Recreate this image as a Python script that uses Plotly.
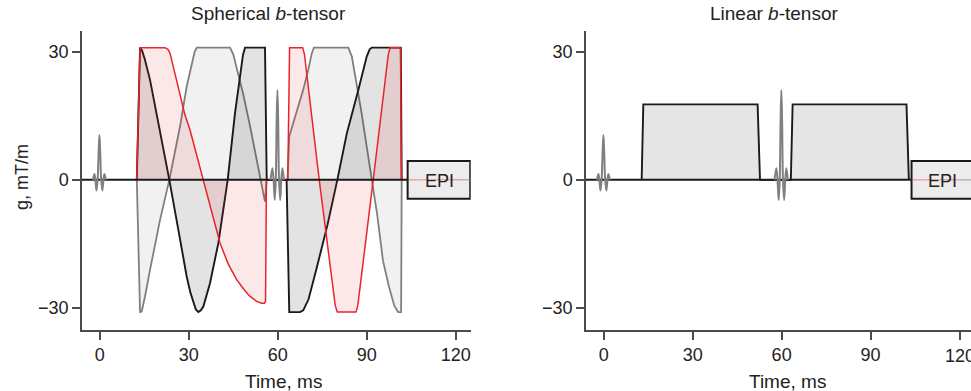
import plotly.graph_objects as go

# ---------------- data (time in ms, gradient in mT/m) ----------------
# Spherical b-tensor: three gradient channels
sph_black_t = [12.5, 13.6, 14.3, 15.2, 16.96, 20.33, 23.47, 26.51, 29.32, 30.6, 31.56, 32.4, 33.25, 34.1,
               34.93, 37.18, 39.99, 43.14, 45.61, 47.3, 48.3, 48.98, 55.72, 56.3, 63.0, 63.9, 67.5, 68.6,
               70.4, 73.2, 76.8, 80.1, 83.3, 87.2, 90.0, 91.0, 91.7, 101.5, 101.8]
sph_black_g = [0, 31, 30.3, 28.3, 23.44, 11.72, 0, -11.72, -22.66, -26.5, -28.91, -30.4, -31, -30.6,
               -29.69, -24.22, -14.84, 0, 15.63, 25.0, 29.3, 31, 31, 0, 0, -31, -31, -30.6,
               -28, -20.5, -10.5, 0, 10.9, 21.1, 28.9, 30.6, 31, 31, 0]

sph_gray_t = [12.5, 13.6, 14.15, 15.27, 16.96, 20.33, 23.47, 27.07, 29.32, 31.0, 32.0, 32.7, 43.92,
              45.0, 46.5, 48.4, 50.7, 53.0, 55.7, 56.3, 63.3, 63.9, 65.3, 66.9, 68.6, 70.3, 71.5, 72.2,
              83.8, 85.0, 86.6, 88.3, 90.0, 91.7, 93.5, 95.5, 97.5, 99.3, 100.6, 101.6, 101.8]
sph_gray_g = [0, -31, -30.86, -27.35, -21.1, -9.38, 0, 12.5, 21.88, 27.35, 30.0, 31, 31,
              29.5, 25.5, 20, 12.5, 4.5, -5.1, 0, 0, 10.2, 13.3, 17.2, 21.1, 25.8, 29.7, 31,
              31, 28.9, 22.7, 15.6, 7.8, 0, -8, -19, -25, -29.5, -31, -31, 0]

sph_red_t = [12.46, 13.59, 22.0, 23.0, 23.7, 25.3, 27.07, 28.7, 30.44, 34.93, 37.8, 40.55, 43.3,
             46.17, 48.5, 50.5, 52.91, 54.6, 55.5, 55.9, 56.2, 63.4, 64.0, 68.4, 69.0, 74.0, 79.4,
             80.1, 86.4, 87.0, 92.2, 97.3, 97.9, 101.4, 101.7]
sph_red_g = [0, 31, 31, 30.6, 29.7, 24.9, 19.5, 15.3, 11.7, 0, -7.6, -14.8, -19.7,
             -23.4, -25.6, -27.2, -28.5, -28.9, -28.9, -28.5, 0, 0, 31, 31, 29.5, 0, -29.5,
             -31, -31, -29.5, 0, 29.5, 31, 31, 0]

# Linear b-tensor: two trapezoid gradients
lin_t = [12.8, 13.35, 51.9, 52.7, 63.1, 63.7, 102.1, 102.9]
lin_g = [0, 17.7, 17.7, 0, 0, 17.7, 17.7, 0]

# RF pulses (excitation ~0 ms, refocusing ~60 ms)
rf1_t = [-2.3, -1.8, -1.45, -1.1, -0.7, -0.35, -0.1, 0.15, 0.5, 0.9, 1.25, 1.6, 2.1]
rf1_g = [0, 1.4, 0, -2.5, 0, 7.0, 10.5, 7.0, 0, -2.5, 0, 1.4, 0]
rf2_t = [57.6, 58.2, 58.6, 59.0, 59.35, 59.65, 59.9, 60.15, 60.45, 60.85, 61.2, 61.6, 62.1]
rf2_g = [0, 2.7, 0, -4.7, 0, 14, 21, 14, 0, -4.7, 0, 2.7, 0]

# zero baseline and EPI readout block
base_t = [-6.0, 103.8]
base_g = [0, 0]
epi_start = 103.8
epi_half_height = 4.4
epi_label = "EPI"

y_ticks = [-30, 0, 30]
y_ticklabels = ["\u221230", "0", "30"]
x_ticks = [0, 30, 60, 90, 120]
x_ticklabels = ["0", "30", "60", "90", "120"]

titles = ["Spherical <i>b</i>-tensor", "Linear <i>b</i>-tensor"]
x_title = "Time, ms"
y_title = "g, mT/m"

# ---------------- styles ----------------
FONT = "Liberation Sans, Arial, Helvetica, sans-serif"
TXT = "#222222"
AX = "#4a4a4a"
BLACK = "#1a1a1a"
GRAY = "#808080"
RED = "#e8242b"

fig = go.Figure()

def add(x, y, xa, ya, color, width, fill=None, fillcolor=None, shape="linear"):
    fig.add_trace(go.Scatter(x=x, y=y, xaxis=xa, yaxis=ya, mode="lines",
                             line=dict(color=color, width=width, shape=shape),
                             fill=fill, fillcolor=fillcolor, hoverinfo="skip",
                             showlegend=False))

# Left panel
add(sph_gray_t, sph_gray_g, "x", "y", GRAY, 1.8, "tozeroy", "rgba(0,0,0,0.055)")
add(sph_black_t, sph_black_g, "x", "y", BLACK, 1.9, "tozeroy", "rgba(0,0,0,0.11)")
add(sph_red_t, sph_red_g, "x", "y", RED, 1.5, "tozeroy", "rgba(225,30,40,0.10)")
add(base_t, base_g, "x", "y", BLACK, 2)
add(rf1_t, rf1_g, "x", "y", GRAY, 2, shape="spline")
add(rf2_t, rf2_g, "x", "y", GRAY, 2, shape="spline")

# Right panel
add(lin_t, lin_g, "x2", "y2", BLACK, 1.9, "tozeroy", "rgba(0,0,0,0.10)")
add(base_t, base_g, "x2", "y2", BLACK, 2)
add(rf1_t, rf1_g, "x2", "y2", GRAY, 2, shape="spline")
add(rf2_t, rf2_g, "x2", "y2", GRAY, 2, shape="spline")

# EPI boxes
for xr, yr, x1 in (("x", "y", 124.9), ("x2", "y2", 135)):
    fig.add_shape(type="rect", xref=xr, yref=yr, x0=epi_start, x1=x1,
                  y0=-epi_half_height, y1=epi_half_height,
                  line=dict(color=BLACK, width=2), fillcolor="#ececec", layer="below")
    add([epi_start, 121], [0, 0], xr, yr, "rgba(232,36,43,0.35)", 1.5)
    add([121, 130], [0, 0], xr, yr, "rgba(128,128,128,0.5)", 1.5)
    fig.add_annotation(x=114.4, y=-0.2, xref=xr, yref=yr, text=epi_label, showarrow=False,
                       font=dict(family=FONT, size=18, color=TXT))

axis_common = dict(showline=True, linecolor=AX, linewidth=1.5, ticks="outside", ticklen=8,
                   tickwidth=1.5, tickcolor=AX, showgrid=False, zeroline=False,
                   tickfont=dict(family=FONT, size=18, color=TXT), automargin=False)

fig.update_layout(
    width=971, height=391, margin=dict(l=0, r=0, t=0, b=0),
    paper_bgcolor="white", plot_bgcolor="white", showlegend=False,
    xaxis=dict(domain=[0.08445, 0.48476], range=[-5.97, 125.06], tickvals=x_ticks,
               ticktext=x_ticklabels, anchor="y", **axis_common),
    yaxis=dict(domain=[0.15601, 0.92072], range=[-35.2, 34.9], tickvals=y_ticks,
               ticktext=y_ticklabels, anchor="x", **axis_common),
    xaxis2=dict(domain=[0.6035, 1.0], range=[-5.97, 123.85], tickvals=x_ticks,
                ticktext=x_ticklabels, anchor="y2", **axis_common),
    yaxis2=dict(domain=[0.15601, 0.92072], range=[-35.2, 34.9], tickvals=y_ticks,
                ticktext=y_ticklabels, anchor="x2", **axis_common),
)

# the right panel's last tick label runs off the page edge (as in the reference);
# plotly drops it, so draw it as text
fig.add_annotation(x=x_ticks[-1], y=1 - 356 / 391, xref="x2", yref="paper",
                   text=x_ticklabels[-1], showarrow=False, xanchor="center", yanchor="middle",
                   font=dict(family=FONT, size=18, color=TXT))

# Panel titles and axis titles
for xr, xc, t in (("x", 56.8, titles[0]), ("x2", 57.3, titles[1])):
    fig.add_annotation(x=xc, y=1 - 14 / 391, xref=xr, yref="paper", text=t, showarrow=False,
                       xanchor="center", yanchor="middle",
                       font=dict(family=FONT, size=19, color=TXT))
for xr in ("x", "x2"):
    fig.add_annotation(x=62, y=1 - 381 / 391, xref=xr, yref="paper", text=x_title,
                       showarrow=False, xanchor="center", yanchor="middle",
                       font=dict(family=FONT, size=19, color=TXT))
fig.add_annotation(x=22 / 971, y=1 - 177 / 391, xref="paper", yref="paper", text=y_title,
                   showarrow=False, textangle=-90, xanchor="center", yanchor="middle",
                   font=dict(family=FONT, size=18, color=TXT))

fig.write_html("out.html", config={"displayModeBar": False},
               post_script="document.body.style.margin='0';document.body.style.overflow='hidden';")
